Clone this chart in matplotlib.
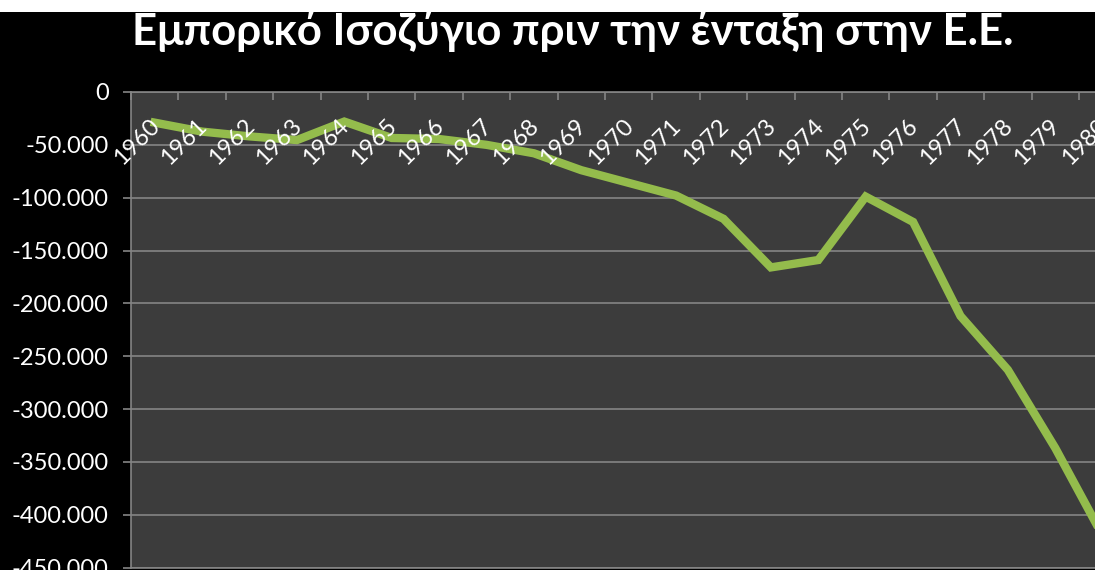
import matplotlib
matplotlib.use("Agg")
import matplotlib.pyplot as plt
from matplotlib.patches import Rectangle
from matplotlib.ticker import FixedLocator

# ---- data ----
years = [str(y) for y in range(1960, 1981)]
balance = [-29000, -37500, -42000, -45500, -28000, -43500, -44500, -50000,
           -58000, -74000, -86000, -98000, -120000, -166000, -159000, -99000,
           -123000, -212000, -263000, -337000, -420000]
y_ticks = [0, -50000, -100000, -150000, -200000, -250000, -300000, -350000, -400000, -450000]
y_tick_labels = ["0", "-50.000", "-100.000", "-150.000", "-200.000", "-250.000",
                 "-300.000", "-350.000", "-400.000", "-450.000"]
title = "Εμπορικό Ισοζύγιο πριν την ένταξη στην Ε.Ε."

FONT = ['Lato', 'Open Sans', 'DejaVu Sans']
plt.rcParams['font.family'] = FONT

W, H = 1095, 570
fig = plt.figure(figsize=(W / 100, H / 100), dpi=100, facecolor='black')

# white strip at top
fig.patches.append(Rectangle((0, (H - 12) / H), 1, 12 / H, transform=fig.transFigure,
                             facecolor='white', edgecolor='none', zorder=0))

left_px, top_px, bottom_px, cat_w = 131, 92, 567.5, 47.4
ax = fig.add_axes([left_px / W, (H - bottom_px) / H, len(years) * cat_w / W,
                   (bottom_px - top_px) / H])
ax.set_facecolor('#3c3c3c')

x = list(range(len(years)))
ax.plot(x, balance, color='#94bc4c', lw=6, solid_joinstyle='miter', zorder=3)

ax.set_xlim(-0.5, len(years) - 0.5)
ax.set_ylim(-450000, 0)

grid_col = '#858585'
ax.yaxis.set_major_locator(FixedLocator(y_ticks))
ax.set_yticklabels(y_tick_labels)
ax.grid(axis='y', color=grid_col, lw=1.2, zorder=1)
ax.tick_params(axis='y', direction='out', length=6, width=1.2, color=grid_col,
               labelcolor='white', labelsize=17, pad=10)

ax.xaxis.set_major_locator(FixedLocator([i - 0.5 for i in range(len(years) + 1)]))
ax.xaxis.set_ticks_position('top')
ax.tick_params(axis='x', direction='in', length=6, width=1.2, color=grid_col,
               labeltop=False, labelbottom=False)

for s in ['right']:
    ax.spines[s].set_visible(False)
for s in ['left', 'top', 'bottom']:
    ax.spines[s].set_color(grid_col)
    ax.spines[s].set_linewidth(1.2)

for i, yr in enumerate(years):
    ax.annotate(yr, xy=(i, 0), xycoords='data', xytext=(1, -22),
                textcoords='offset points', rotation=45, rotation_mode='anchor',
                ha='right', va='center', color='white', fontsize=17,
                annotation_clip=False, zorder=4)

fig.text(573 / W, (H - 45) / H, title, ha='center', va='baseline', color='white',
         fontsize=31.5, fontweight='bold')

fig.savefig('out.png', dpi=100, facecolor='black')
